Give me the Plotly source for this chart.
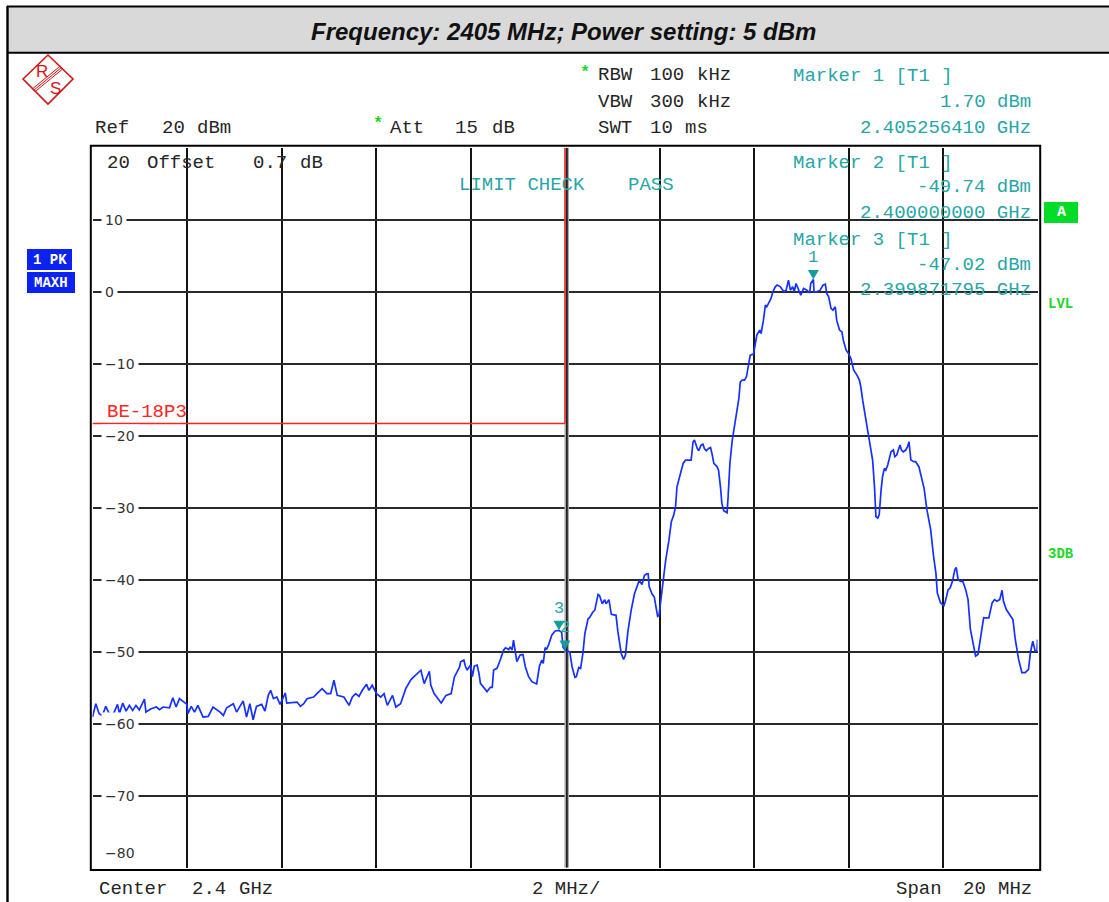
import plotly.graph_objects as go

# ---------------------------------------------------------------------------
# Sweep data (spectrum analyser trace 1, PK / MAXH)
# ---------------------------------------------------------------------------
START_MHZ = 2390.0
SPAN_MHZ = 20.0
REF_DBM = 20.0
BOTTOM_DBM = -80.0

# frequency offset from the start of the span, MHz
freq_offset_mhz = [
    0.00, 0.07, 0.14, 0.21, 0.28, 0.39, 0.46, 0.53, 0.57, 0.64, 0.71, 0.78, 0.85, 0.92, 0.99,
    1.10, 1.13, 1.24, 1.35, 1.42, 1.49, 1.63, 1.70, 1.77, 1.84, 1.91, 2.00, 2.02, 2.09, 2.16,
    2.23, 2.34, 2.45, 2.55, 2.70, 2.77, 2.84, 2.98, 3.05, 3.12, 3.19, 3.26, 3.33, 3.40, 3.47,
    3.58, 3.65, 3.72, 3.77, 3.83, 3.90, 3.97, 4.08, 4.11, 4.33, 4.40, 4.47, 4.54, 4.68, 4.75,
    4.86, 4.96, 5.04, 5.11, 5.18, 5.32, 5.43, 5.50, 5.57, 5.64, 5.71, 5.80, 5.85, 5.92, 6.01,
    6.10, 6.17, 6.24, 6.35, 6.42, 6.52, 6.63, 6.74, 6.81, 6.88, 6.95, 7.02, 7.13, 7.16, 7.23,
    7.38, 7.48, 7.59, 7.66, 7.77,
    7.79, 7.86, 7.89, 7.93, 8.00, 8.04, 8.08, 8.14, 8.18, 8.21, 8.32, 8.35, 8.42, 8.46, 8.49,
    8.56, 8.63, 8.70, 8.74, 8.81, 8.84, 8.88, 8.91, 8.95, 8.98, 9.05, 9.11, 9.16, 9.23, 9.30,
    9.40, 9.46, 9.51, 9.54, 9.58, 9.61, 9.65, 9.72, 9.79, 9.871795, 9.93, 9.96, 10.00, 10.02,
    10.10, 10.15, 10.21, 10.24, 10.29, 10.33, 10.38, 10.42, 10.49, 10.52, 10.59, 10.63, 10.70,
    10.73, 10.79, 10.84, 10.87, 10.93, 10.98, 11.08, 11.12, 11.19, 11.24, 11.28, 11.33, 11.40,
    11.47, 11.54, 11.57, 11.63, 11.68, 11.73, 11.76, 11.78, 11.84, 11.89, 11.92, 11.96, 11.99,
    12.04, 12.10, 12.13,
    12.20, 12.25, 12.30, 12.34, 12.37, 12.44, 12.50, 12.55, 12.67, 12.71, 12.74, 12.80, 12.83,
    12.88, 12.92, 12.95, 12.99, 13.04, 13.08, 13.11, 13.15, 13.22, 13.25, 13.29, 13.32, 13.36,
    13.39, 13.43, 13.45, 13.49, 13.54, 13.58, 13.64, 13.68, 13.71, 13.75, 13.80, 13.84, 13.89,
    13.92, 13.99, 14.03, 14.06, 14.12, 14.15, 14.20, 14.24, 14.27, 14.31, 14.36, 14.40, 14.45,
    14.49, 14.56, 14.63, 14.68, 14.73, 14.77, 14.82, 14.85, 14.89, 14.94, 14.99, 15.05, 15.12,
    15.18, 15.20, 15.256410, 15.27, 15.33, 15.40, 15.46, 15.51, 15.54, 15.58, 15.63, 15.67,
    15.72, 15.75, 15.81, 15.86, 15.89, 15.95, 16.00, 16.05, 16.11, 16.18, 16.23, 16.26,
    16.30, 16.34, 16.37, 16.44, 16.51, 16.55, 16.58, 16.62, 16.65, 16.69, 16.72, 16.76, 16.79,
    16.83, 16.90, 16.95, 16.98, 17.02, 17.05, 17.09, 17.12, 17.16, 17.21, 17.25, 17.28, 17.32,
    17.38, 17.42, 17.49, 17.54, 17.60, 17.66, 17.71, 17.74, 17.80, 17.85, 17.88, 17.95, 18.02,
    18.05, 18.11, 18.15, 18.20, 18.25, 18.28, 18.32, 18.37, 18.42, 18.48, 18.53, 18.58, 18.64,
    18.69, 18.74, 18.78, 18.83, 18.86, 18.90, 18.97, 19.04, 19.09, 19.14, 19.20, 19.25, 19.28,
    19.34, 19.41, 19.48, 19.53, 19.60, 19.67, 19.74, 19.81, 19.85, 19.90, 19.95, 19.99, 20.00,
]

level_dbm = [
    -59.07, -57.21, -58.60, -58.84, -57.58, -59.07, -58.37, -57.30, -58.60, -57.12, -58.23, -57.44, -58.14, -57.44, -58.05,
    -56.56, -58.37, -57.91, -57.67, -58.05, -57.67, -57.77, -56.37, -57.67, -56.51, -56.84, -57.30, -58.60, -57.58, -58.37,
    -57.44, -59.07, -58.98, -57.67, -58.37, -58.84, -57.77, -57.21, -58.37, -57.58, -56.84, -59.07, -57.21, -59.44, -57.58,
    -57.30, -58.23, -56.05, -55.35, -56.51, -56.28, -57.30, -55.72, -57.12, -56.98, -57.58, -57.21, -56.51, -56.28, -55.81,
    -55.12, -55.81, -55.81, -53.95, -56.05, -56.28, -57.44, -56.28, -55.81, -56.19, -55.35, -54.51, -55.35, -54.65, -55.81,
    -56.28, -55.81, -57.44, -56.05, -57.67, -57.21, -55.12, -53.86, -53.40, -53.02, -52.56, -54.42, -52.70, -54.65, -55.81,
    -57.12, -56.05, -55.81, -53.49, -52.09,
    -51.38, -51.15, -51.98, -52.53, -51.84, -53.46, -51.98, -51.84, -53.00, -54.38, -55.30, -55.53, -54.93, -54.93, -52.53,
    -52.30, -51.15, -49.77, -49.45, -49.68, -49.31, -49.77, -48.39, -50.23, -51.38, -50.46, -50.37, -52.07, -53.46, -54.15,
    -54.47, -51.98, -51.15, -51.61, -49.40, -49.68, -49.08, -47.70, -47.10, -47.02, -47.30, -49.40, -49.74, -49.90,
    -50.00, -52.07, -53.55, -53.46, -52.17, -52.30, -50.14, -47.47, -45.39, -45.25, -44.47, -44.24, -42.03,
    -42.17, -43.32, -42.76, -43.32, -42.76, -44.79, -44.93, -47.24, -50.23, -51.06, -50.46, -47.24, -44.24,
    -41.94, -40.65, -40.09, -40.65, -39.40, -39.17, -39.17, -40.92, -41.94, -42.40, -43.78, -45.07, -44.93,
    -41.94, -39.17, -37.33,
    -34.49, -31.94, -31.02, -29.86, -27.08, -25.23, -23.84, -23.38, -23.38, -20.83, -20.60, -21.76, -22.08,
    -21.30, -21.16, -21.76, -22.08, -21.76, -21.62, -22.45, -23.84, -24.31, -24.77, -27.08, -29.40, -30.42,
    -30.56, -30.69, -28.70, -23.84, -20.60, -18.98, -16.90, -14.81, -12.50, -12.27, -12.27, -11.81, -9.95,
    -8.80, -8.66, -7.18, -6.02, -5.32, -5.79, -3.94, -1.85, -2.08, -1.62, -0.93, 0.00, 0.69,
    0.93, 0.69, 0.00, 0.23, 1.62, 0.23, 0.69, 0.00, 1.16, 0.46, -0.46, 0.46, 0.23,
    -0.14, 1.16, 1.70, 0.00, 0.00, 0.23, 0.93, 1.06, -0.23, -0.69, -2.31, -2.55,
    -2.08, -3.94, -5.32, -5.56, -6.71, -8.10, -8.56, -9.26, -10.88, -11.57, -12.27, -13.19,
    -15.06, -16.45, -17.83, -20.60, -23.37, -27.06, -31.21, -31.44, -30.98, -27.52, -25.68, -24.52, -24.75,
    -24.06, -22.22, -21.98, -22.91, -22.68, -21.98, -21.29, -21.98, -22.22, -21.98, -21.52, -20.83, -23.37,
    -23.60, -23.60, -24.29, -25.68, -27.29, -30.29, -32.14, -33.06, -36.75, -39.06, -41.83, -43.21, -43.58,
    -42.98, -41.37, -41.14, -40.21, -38.60, -38.27, -39.98, -40.21, -40.21, -41.37, -42.75, -46.90, -48.75,
    -50.60, -50.37, -48.75, -47.13, -45.29, -45.29, -45.29, -43.21, -42.75, -42.98, -42.75, -41.46, -42.98,
    -44.13, -44.83, -45.52, -48.29, -51.06, -52.90, -52.90, -52.44, -50.13, -48.52, -49.90, -49.90, -48.29,
]

# Markers (T1)
marker_ids = ["1", "2", "3"]
marker_freq_mhz = [2405.256410, 2400.000000, 2399.871795]
marker_level_dbm = [1.70, -49.74, -47.02]

# Limit line BE-18P3: flat limit up to the centre frequency
limit_name = "BE-18P3"
limit_level_dbm = -18.3
limit_stop_mhz = 2400.0

# Grid divisions
x_div_mhz = [2390, 2392, 2394, 2396, 2398, 2402, 2404, 2406, 2408, 2410]
y_div_dbm = [20, 10, 0, -10, -20, -30, -40, -50, -60, -70, -80]
y_tick_labels = [10, 0, -10, -20, -30, -40, -50, -60, -70]

freq_mhz = [START_MHZ + f for f in freq_offset_mhz]

# ---------------------------------------------------------------------------
# Page geometry helpers (pixel -> paper coordinates)
# ---------------------------------------------------------------------------
W, H = 1109, 902


def px(x):
    return x / W


def py(y):
    return 1 - y / H


MONO = "Liberation Mono"
SANS = "Liberation Sans"
DARK = "#262626"
TEAL = "#27a6a6"
TEAL_MARK = "#179c9c"
GREEN = "#1fd62a"
RED = "#ff2222"
BLUE = "#1530ff"

fig = go.Figure()

fig.add_trace(go.Scatter(
    x=freq_mhz, y=level_dbm, mode="lines",
    line=dict(color=BLUE, width=1.7), hoverinfo="skip", showlegend=False,
))

annotations = []
shapes = []


def text(x, y, s, color=DARK, size=19, anchor="left", family=MONO, bold=False):
    s = s.replace(" ", "\u00a0")
    if bold:
        s = "<b>" + s + "</b>"
    annotations.append(dict(
        x=px(x), y=py(y), xref="paper", yref="paper", text=s, showarrow=False,
        xanchor=anchor, yanchor="middle", font=dict(family=family, size=size, color=color),
    ))


# --- header band with title ---
shapes.append(dict(type="rect", xref="paper", yref="paper", x0=px(8), x1=px(1109),
                   y0=py(7), y1=py(52.5), fillcolor="#d9d9d9", line=dict(width=0), layer="below"))
shapes.append(dict(type="line", xref="paper", yref="paper", x0=px(7), x1=px(1109),
                   y0=py(6.5), y1=py(6.5), line=dict(color="black", width=2.2)))
shapes.append(dict(type="line", xref="paper", yref="paper", x0=px(7), x1=px(1109),
                   y0=py(52.7), y1=py(52.7), line=dict(color="black", width=2)))
shapes.append(dict(type="line", xref="paper", yref="paper", x0=px(7.5), x1=px(7.5),
                   y0=py(6), y1=py(902), line=dict(color="black", width=2.4)))
annotations.append(dict(
    x=px(563), y=py(31), xref="paper", yref="paper", showarrow=False,
    text="<b><i>Frequency: 2405 MHz; Power setting: 5 dBm</i></b>",
    font=dict(family=SANS, size=24, color="#111111"), xanchor="center", yanchor="middle",
))

# --- R&S logo ---
LOGO = "#d41414"
shapes.append(dict(type="path", xref="paper", yref="paper",
                   path=f"M {px(23)},{py(79)} L {px(48)},{py(55)} L {px(73)},{py(79)} L {px(48)},{py(104)} Z",
                   line=dict(color=LOGO, width=1.6)))
for off in (-1.9, 0.0, 1.9):
    nx, ny = 0.634 * off, 0.773 * off
    shapes.append(dict(type="line", xref="paper", yref="paper",
                       x0=px(61.5 + nx), y0=py(67.5 + ny), x1=px(34.0 + nx), y1=py(90.0 + ny),
                       line=dict(color=LOGO, width=1)))
text(41.5, 71.5, "R", color=LOGO, size=17, anchor="center", family=SANS)
text(55.5, 88.5, "S", color=LOGO, size=17, anchor="center", family=SANS)

# --- instrument settings ---
text(93, 128, "Ref", DARK)
text(160, 128, "20", DARK)
text(195, 128, "dBm", DARK)
text(378, 124, "*", GREEN, size=17, anchor="center", bold=True)
text(388, 128, "Att", DARK)
text(453, 128, "15", DARK)
text(490, 128, "dB", DARK)
text(585, 72, "*", GREEN, size=17, anchor="center", bold=True)
for row_y, name, val, unit in ((75, "RBW", "100", "kHz"), (102, "VBW", "300", "kHz"), (128, "SWT", "10", "ms")):
    text(596, row_y, name, DARK)
    text(648, row_y, val, DARK)
    text(695 if unit == "kHz" else 683, row_y, unit, DARK)

# --- marker readouts ---
readout_rows = [(76, 102, 128), (163, 187, 213), (240, 265, 290)]
for mid, f, lv, rows in zip(marker_ids, marker_freq_mhz, marker_level_dbm, readout_rows):
    text(790.7, rows[0], f"Marker {mid} [T1 ]", TEAL)
    text(1033, rows[1], f"{lv:.2f} dBm", TEAL, anchor="right")
    text(1033, rows[2], f"{f / 1000:.9f} GHz", TEAL, anchor="right")

# --- in-graticule texts ---
text(105, 163, "20", DARK)
text(145, 163, "Offset", DARK)
text(251, 163, "0.7", DARK)
text(298, 163, "dB", DARK)
text(457, 185, "LIMIT CHECK", TEAL)
text(626, 185, "PASS", TEAL)
text(105, 412, limit_name, RED)

# --- side flags ---
shapes.append(dict(type="rect", xref="paper", yref="paper", x0=px(27), x1=px(72), y0=py(249), y1=py(270),
                   fillcolor="#0b22f0", line=dict(width=0)))
shapes.append(dict(type="rect", xref="paper", yref="paper", x0=px(27), x1=px(75), y0=py(272), y1=py(293),
                   fillcolor="#0b22f0", line=dict(width=0)))
text(49.5, 260, "1 PK", "white", size=14, anchor="center", bold=True)
text(51, 283, "MAXH", "white", size=14, anchor="center", bold=True)
shapes.append(dict(type="rect", xref="paper", yref="paper", x0=px(1044), x1=px(1078), y0=py(202), y1=py(223),
                   fillcolor="#00dc28", line=dict(width=0)))
text(1061, 213, "A", "white", size=15, anchor="center", bold=True)
text(1046, 304, "LVL", GREEN, size=14, bold=True)
text(1046, 554, "3DB", GREEN, size=14, bold=True)

# --- footer ---
text(97, 889, "Center", DARK)
text(190, 889, "2.4", DARK)
text(237, 889, "GHz", DARK)
text(530, 889, "2 MHz/", DARK)
text(894, 889, "Span", DARK)
text(961, 889, "20", DARK)
text(996, 889, "MHz", DARK)

# --- level scale labels (on the graticule) ---
for v in y_tick_labels:
    annotations.append(dict(
        x=px(101), xref="paper", y=v, yref="y", xanchor="left", yanchor="middle",
        text=str(v).replace("-", "\u2212"), showarrow=False, bgcolor="white", borderpad=3,
        font=dict(family="DejaVu Sans", size=14, color="#333333"),
    ))
annotations.append(dict(
    x=px(101), xref="paper", y=BOTTOM_DBM, yref="y", xanchor="left", yanchor="middle", yshift=15,
    text=str(int(BOTTOM_DBM)).replace("-", "\u2212"), showarrow=False, borderpad=3,
    font=dict(family="DejaVu Sans", size=14, color="#333333"),
))

# --- centre line of the graticule (drawn heavier) ---
shapes.append(dict(type="rect", xref="x", yref="y", xsizemode="pixel", xanchor=START_MHZ + SPAN_MHZ / 2,
                   x0=-0.6, x1=4.0, y0=BOTTOM_DBM, y1=REF_DBM, fillcolor="#a9a9a9",
                   line=dict(width=0), layer="between"))
shapes.append(dict(type="line", xref="x", yref="y", xsizemode="pixel", xanchor=START_MHZ + SPAN_MHZ / 2,
                   x0=1.9, x1=1.9, y0=BOTTOM_DBM, y1=REF_DBM, line=dict(color="#111111", width=1.6),
                   layer="between"))

# --- limit line ---
shapes.append(dict(type="line", xref="x", yref="y", x0=START_MHZ, x1=limit_stop_mhz,
                   y0=limit_level_dbm, y1=limit_level_dbm, line=dict(color=RED, width=1.5)))
shapes.append(dict(type="line", xref="x", yref="y", x0=limit_stop_mhz, x1=limit_stop_mhz,
                   y0=limit_level_dbm, y1=REF_DBM, line=dict(color=RED, width=1.5)))

# --- marker symbols ---
for mid, f, lv in zip(marker_ids, marker_freq_mhz, marker_level_dbm):
    shapes.append(dict(type="path", xref="x", yref="y", xsizemode="pixel", ysizemode="pixel",
                       xanchor=f, yanchor=lv, path="M -5.5,9.5 L 5.5,9.5 L 0,0 Z",
                       fillcolor=TEAL_MARK, line=dict(width=0)))
    annotations.append(dict(x=f, y=lv, xref="x", yref="y", yshift=22, text=mid, showarrow=False,
                            xanchor="center", yanchor="middle",
                            font=dict(family=MONO, size=17, color=TEAL)))

# --- outer double frame of the graticule ---
shapes.append(dict(type="rect", xref="paper", yref="paper", x0=px(90.8), x1=px(1040.2),
                   y0=py(870.0), y1=py(145.8), line=dict(color="black", width=2)))

fig.update_layout(
    width=W, height=H, autosize=False,
    margin=dict(l=0, r=0, t=0, b=0, pad=0),
    paper_bgcolor="white", plot_bgcolor="white",
    showlegend=False,
    xaxis=dict(domain=[px(92.5), px(1037.5)], range=[START_MHZ, START_MHZ + SPAN_MHZ],
               tickmode="array", tickvals=x_div_mhz, showticklabels=False, ticks="",
               showgrid=True, gridcolor="#141414", gridwidth=1.5, zeroline=False, showline=False,
               fixedrange=True),
    yaxis=dict(domain=[py(867.8), py(147.8)], range=[BOTTOM_DBM, REF_DBM],
               tickmode="array", tickvals=y_div_dbm, showticklabels=False, ticks="",
               showgrid=True, gridcolor="#2a2a2a", gridwidth=1.7, zeroline=False, showline=False,
               fixedrange=True),
    annotations=annotations,
    shapes=shapes,
)

fig.write_html("out.html")
